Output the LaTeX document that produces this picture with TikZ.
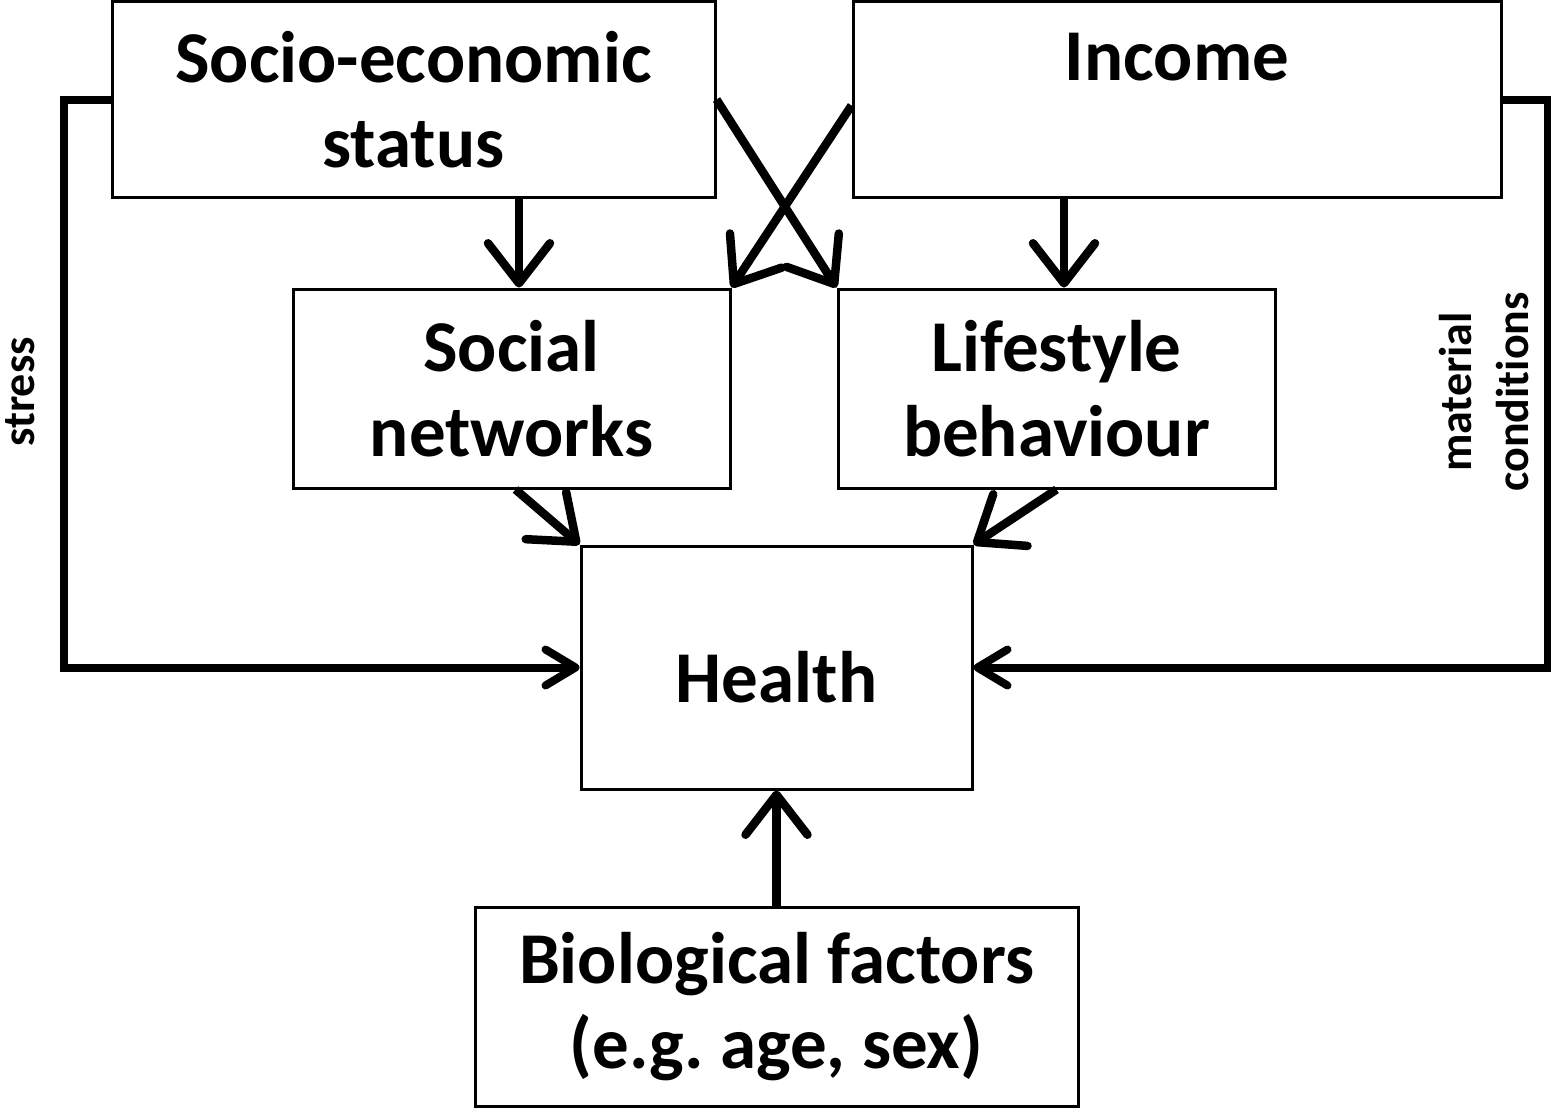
\documentclass[tikz,border=0pt]{standalone}
\usepackage{fontspec}
\setmainfont{Carlito}[Ligatures=NoCommon]
\usetikzlibrary{arrows.meta,calc}
\frenchspacing
\begin{document}
\begin{tikzpicture}[x=1pt,y=-1pt,
  boxfont/.style={font=\bfseries\fontsize{73}{85}\selectfont},
  box/.style={draw,line width=3pt,align=center,inner sep=0pt,boxfont},
  link/.style={line width=8.5pt,-{Straight Barb[length=40pt,width=62pt,round]}},
  side/.style={line width=8pt,line join=miter,-{Straight Barb[length=30pt,width=36pt,round]}},
  sidelabel/.style={rotate=90,align=center,inner sep=0pt,
    font=\bfseries\fontsize{46}{57}\selectfont}]
\useasboundingbox (0,0) rectangle (1551,1109);

% boxes
\node[box,minimum width=603pt,minimum height=196pt] (ses) at (413.5,99.5) {Socio-economic\\status};
\node[box,minimum width=648pt,minimum height=196pt] (inc) at (1177,99.5) {Income\\[0pt]\phantom{x}};
\node[box,minimum width=437pt,minimum height=199pt] (soc) at (511.5,388.5) {Social\\networks};
\node[box,minimum width=437pt,minimum height=199pt] (life) at (1056.5,388.5) {Lifestyle\\behaviour};
\node[box,minimum width=391pt,minimum height=243pt] (health) at (776.5,667.5) {};
\node[boxfont,inner sep=0pt] (healthtxt) at ($(health.center)+(0,10)$) {Health};
\node[box,minimum width=603pt,minimum height=199pt] (bio) at (776.5,1007) {Biological factors\\(e.g. age, sex)};

% side labels
\node[sidelabel] (stresslbl) at (20,392) {stress};
\node[sidelabel] (matlbl) at (1484,392) {material\\condit\kern0pt ions};

% helper points for the vertical arrows
\coordinate (socin) at ($(soc.north)+(7.5,0)$);
\coordinate (lifein) at ($(life.north)+(7.5,0)$);

% connectors
\draw[link] (ses.south -| socin) -- (socin);
\draw[link] (inc.south -| lifein) -- (lifein);
\draw[link] (ses.east) -- (life.north west);
\draw[link] ([yshift=-6pt]inc.west) -- (soc.north east);
\draw[link] ([xshift=4pt]soc.south) -- (health.north west);
\draw[link] (life.south) -- (health.north east);
\draw[link] (bio.north) -- (health.south);
\draw[side] (ses.west) -- ++(-47,0) |- (health.west);
\draw[side] (inc.east) -- ++(45,0) |- (health.east);
\end{tikzpicture}
\end{document}
